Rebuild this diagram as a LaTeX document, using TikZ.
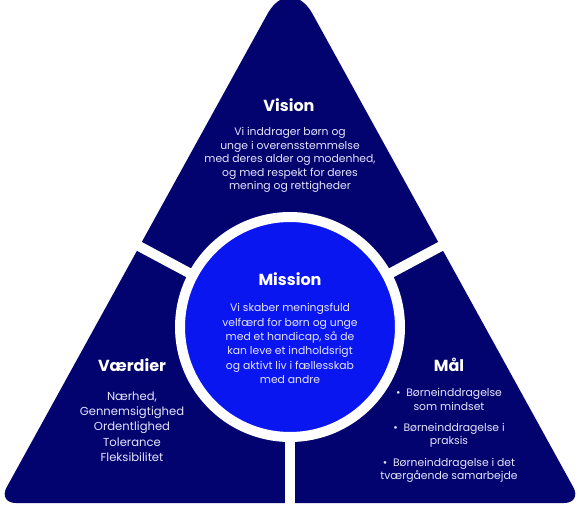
\documentclass[tikz,border=0pt]{standalone}
\usepackage{fontspec}
\setmainfont{Poppins}
\definecolor{navy}{RGB}{2,3,110}
\definecolor{mblue}{RGB}{10,22,240}
\definecolor{ltext}{RGB}{228,228,255}
\begin{document}
\begin{tikzpicture}[x=1pt,y=-1pt,
  title/.style={text=white,font=\bfseries\fontsize{16}{19}\selectfont,inner sep=0pt},
  body/.style={text=ltext,align=center,inner sep=0pt},
  sep/.style={white,line width=10pt}]
\useasboundingbox (0,0) rectangle (580,505);
\coordinate (A) at (290,-27);
\coordinate (B) at (-2,503);
\coordinate (C) at (582,503);
\coordinate (M) at (290,503);
\fill[navy] (M) [rounded corners=18pt] -- (B) [rounded corners=47pt] -- (A) [rounded corners=18pt] -- (C) -- cycle;
\coordinate (O) at (290,327);
\coordinate (L) at (120,236);
\coordinate (R) at (460,236);
\coordinate (D) at (290,515);
\draw[sep] (O) -- (L);
\draw[sep] (O) -- (R);
\draw[sep] (O) -- (D);
\node[circle,fill=mblue,draw=white,line width=10pt,minimum size=220pt,inner sep=0pt] (circ) at (O) {};
\node[title] (vt) at (289,105) {Vision};
\node[body,font=\fontsize{10.8}{13.6}\selectfont] (vb) at (290,160) {Vi inddrager børn og\\unge i overensstemmelse\\med deres alder og modenhed,\\og med respekt for deres\\mening og rettigheder};
\node[title] (mt) at (290,279) {Mission};
\node[body,font=\fontsize{10.8}{14.3}\selectfont] (mb) at (290,343.5) {Vi skaber meningsfuld\\velfærd for børn og unge\\med et handicap, så de\\kan leve et indholdsrigt\\og aktivt liv i fællesskab\\med andre};
\node[title] (vdt) at (132,365) {Værdier};
\node[body,font=\fontsize{11.6}{15.3}\selectfont] (vdb) at (132,426.5) {Nærhed,\\Gennemsigtighed\\Ordentlighed\\Tolerance\\Fleksibilitet};
\node[title] (mlt) at (449,365) {Mål};
\node[body,font=\fontsize{10.8}{13.2}\selectfont] (m1) at (449,399.5) {•\ \ Børneinddragelse\\som mindset};
\node[body,font=\fontsize{10.8}{13.2}\selectfont] (m2) at (449,435) {•\ \ Børneinddragelse i\\praksis};
\node[body,font=\fontsize{10.8}{13.2}\selectfont] (m3) at (449,470) {•\ \ Børneinddragelse i det\\tværgående samarbejde};
\end{tikzpicture}
\end{document}
